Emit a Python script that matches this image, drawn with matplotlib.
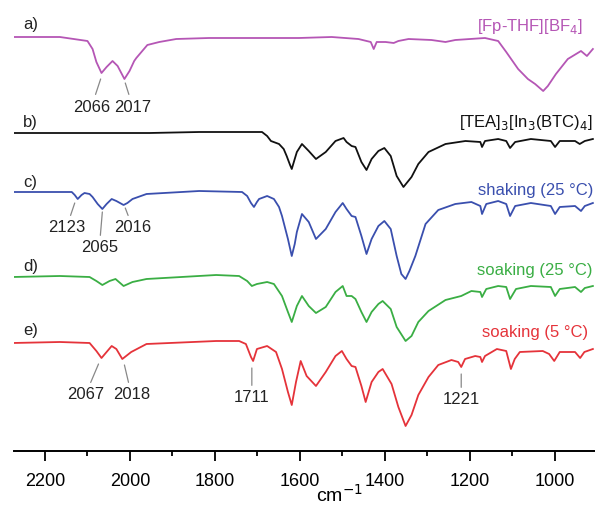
import matplotlib
matplotlib.use("Agg")
import matplotlib.pyplot as plt
from matplotlib.ticker import MultipleLocator

plt.rcParams['font.family'] = ['Liberation Sans', 'DejaVu Sans']

# spectra: wavenumber (cm-1), stacked intensity (a.u.)
a_wn = [2276, 2165, 2100, 2088, 2079, 2067, 2055, 2041, 2029, 2013, 2001, 1990, 1985, 1973,
        1959, 1931, 1891, 1814, 1602, 1525, 1462, 1433, 1426, 1419, 1398, 1379, 1368, 1344,
        1290, 1257, 1234, 1164, 1133, 1114, 1086, 1063, 1046, 1027, 1016, 997, 969, 938, 924, 910]
a_int = [414, 414, 410, 402, 389, 378, 384, 390, 385, 372, 380, 390, 393, 399,
         406, 409, 412, 413, 413, 414, 412, 409, 402, 409, 409, 408, 410, 412,
         411, 409, 411, 413, 410, 399, 382, 372, 367, 360, 365, 377, 392, 400, 395, 402]

b_wn = [2276, 2165, 1954, 1837, 1689, 1677, 1668, 1649, 1638, 1631, 1623, 1619, 1612,
        1607, 1595, 1579, 1562, 1539, 1516, 1497, 1490, 1478, 1469, 1455, 1443, 1431, 1415,
        1401, 1386, 1372, 1356, 1337, 1321, 1297, 1257, 1210, 1175, 1171, 1164, 1133, 1114,
        1105, 1093, 1056, 1009, 999, 988, 952, 941, 929, 910]
b_int = [318, 318, 318, 319, 319, 315, 310, 307, 302, 295, 286, 282, 292,
         299, 307, 300, 292, 299, 310, 313, 309, 305, 304, 289, 281, 292, 300,
         303, 295, 275, 264, 274, 287, 299, 307, 310, 309, 304, 310, 312, 310,
         303, 309, 312, 310, 304, 310, 310, 307, 310, 312]

c_wn = [2276, 2158, 2137, 2130, 2123, 2114, 2107, 2095, 2088, 2076, 2065, 2055, 2043, 2032,
        2015, 2006, 1994, 1961, 1837, 1736, 1724, 1715, 1708, 1701, 1696, 1677, 1661, 1649,
        1642, 1628, 1619, 1612, 1607, 1595, 1579, 1562, 1539, 1516, 1499, 1490, 1478, 1469,
        1455, 1443, 1431, 1415, 1401, 1386, 1372, 1361, 1351, 1342, 1328, 1304, 1274, 1234,
        1196, 1175, 1171, 1161, 1133, 1114, 1105, 1093, 1056, 1009, 999, 988, 952, 938, 929, 910]
c_int = [259, 259, 259, 256, 252, 256, 258, 257, 254, 247, 242, 247, 252, 250,
         246, 248, 252, 257, 260, 259, 255, 248, 244, 249, 252, 255, 252, 244,
         235, 212, 195, 207, 219, 237, 229, 212, 222, 239, 248, 242, 235, 234,
         215, 197, 212, 225, 230, 222, 195, 177, 172, 180, 195, 227, 241, 247,
         249, 245, 237, 247, 250, 247, 235, 245, 248, 245, 237, 244, 245, 240, 245, 248]

d_wn = [2276, 2165, 2095, 2079, 2065, 2048, 2034, 2015, 1994, 1961, 1797, 1743, 1724,
        1713, 1701, 1677, 1661, 1642, 1628, 1619, 1607, 1595, 1579, 1562, 1539, 1516, 1499,
        1490, 1478, 1469, 1455, 1443, 1431, 1415, 1405, 1386, 1372, 1351, 1337, 1321, 1297,
        1257, 1220, 1196, 1175, 1171, 1161, 1133, 1114, 1105, 1091, 1056, 1009, 999, 988,
        952, 938, 929, 910]
d_int = [174, 175, 174, 170, 166, 170, 172, 165, 169, 172, 176, 175, 170,
         165, 167, 169, 167, 155, 139, 129, 145, 155, 145, 138, 144, 159, 165,
         155, 155, 152, 139, 129, 139, 147, 150, 142, 124, 110, 115, 129, 140,
         151, 155, 160, 159, 154, 162, 165, 164, 152, 162, 165, 164, 155, 162,
         164, 159, 163, 165]

e_wn = [2276, 2165, 2095, 2079, 2067, 2055, 2043, 2032, 2018, 1997, 1961, 1797, 1743, 1727,
        1715, 1710, 1701, 1677, 1656, 1642, 1628, 1619, 1609, 1598, 1584, 1562, 1539, 1516,
        1501, 1490, 1478, 1469, 1455, 1445, 1431, 1415, 1405, 1384, 1368, 1351, 1337, 1321,
        1297, 1274, 1243, 1227, 1220, 1211, 1187, 1175, 1171, 1164, 1136, 1114, 1103, 1094,
        1082, 1028, 1013, 1001, 988, 952, 940, 930, 910]
e_int = [108, 109, 108, 100, 93, 99, 105, 102, 92, 99, 107, 110, 110, 107,
         94, 90, 102, 105, 99, 82, 59, 46, 69, 90, 75, 65, 79, 95,
         100, 92, 85, 84, 65, 49, 69, 79, 82, 67, 44, 25, 36, 56,
         74, 86, 91, 89, 84, 92, 95, 94, 89, 95, 102, 100, 82, 92,
         99, 100, 97, 90, 99, 99, 93, 99, 102]

names = ['[Fp-THF][BF$_4$]', '[TEA]$_3$[In$_3$(BTC)$_4$]', 'shaking (25 °C)',
         'soaking (25 °C)', 'soaking (5 °C)']
letters = ['a)', 'b)', 'c)', 'd)', 'e)']
colors = ['#b556b5', '#111111', '#3a4fae', '#3aae44', '#e5333a']

# peak labels: (text, peak position, line end y, text x, text y)
peak_labels = [
    ('2066', 2069, 372, 2090, 345), ('2017', 2011, 368, 1994, 345),
    ('2123', 2130, 248, 2149, 224), ('2065', 2065, 239, 2072, 204),
    ('2016', 2011, 243, 1994, 224),
    ('2067', 2074, 87, 2104, 57), ('2018', 2013, 86, 1997, 57),
    ('1711', 1713, 83, 1713, 54), ('1221', 1220, 77, 1220, 52),
]

fig = plt.figure(figsize=(5.95, 5.10), dpi=100)
ax = fig.add_axes([14 / 595, 58 / 510, 581 / 595, 452 / 510])

spectra = [(a_wn, a_int), (b_wn, b_int), (c_wn, c_int), (d_wn, d_int), (e_wn, e_int)]
for (wn, inten), col in zip(spectra, colors):
    ax.plot(wn, inten, color=col, lw=1.3, solid_joinstyle='round')

# trace names on the right, letters on the left
name_pos = [(934, 425), (910, 329), (910, 262), (910, 182), (922, 120)]
letter_y = [427, 330, 269, 186, 122]
for name, (x, y), col in zip(names, name_pos, colors):
    ax.text(x, y, name, color=col, fontsize=12, ha='right', va='center')
for lab, y in zip(letters, letter_y):
    ax.text(2252, y, lab, color='#222222', fontsize=12, ha='left', va='center')

for txt, px, py, tx, ty in peak_labels:
    ax.annotate(txt, xy=(px, py), xytext=(tx, ty), fontsize=12, color='#222222',
                ha='center', va='center',
                arrowprops=dict(arrowstyle='-', color='#888888', lw=0.9,
                                shrinkA=1, shrinkB=0))

ax.set_xlim(2273, 905)
ax.set_ylim(0, 452)
ax.xaxis.set_major_locator(MultipleLocator(200))
ax.xaxis.set_minor_locator(MultipleLocator(100))
ax.tick_params(axis='x', which='major', length=7, width=1.3, labelsize=13, pad=8)
ax.tick_params(axis='x', which='minor', length=3.5, width=1.3)
ax.set_yticks([])
for s in ['top', 'left', 'right']:
    ax.spines[s].set_visible(False)
ax.spines['bottom'].set_linewidth(1.4)
ax.set_xlabel('cm$^{-1}$', fontsize=14)
ax.xaxis.set_label_coords(0.56, -0.071)

fig.savefig('out.png', dpi=100)
